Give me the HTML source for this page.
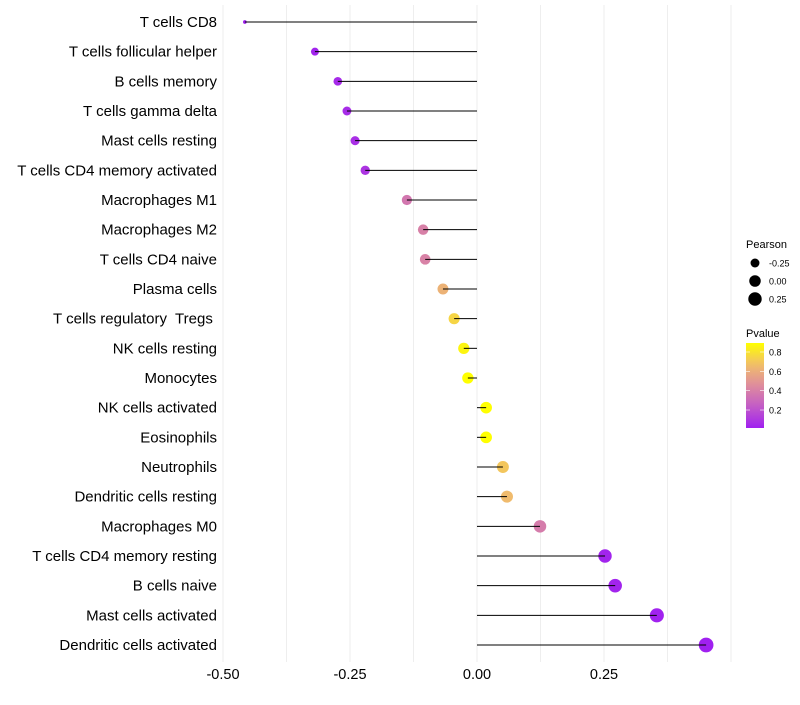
<!DOCTYPE html>
<html><head><meta charset="utf-8"><style>
body{margin:0;background:#fff;font-family:"Liberation Sans",sans-serif}
svg text{font-family:"Liberation Sans",sans-serif}
</style></head><body>
<svg id="chart" width="800" height="700"></svg>
<script>
const categories=["T cells CD8","T cells follicular helper","B cells memory","T cells gamma delta","Mast cells resting","T cells CD4 memory activated","Macrophages M1","Macrophages M2","T cells CD4 naive","Plasma cells","T cells regulatory  Tregs ","NK cells resting","Monocytes","NK cells activated","Eosinophils","Neutrophils","Dendritic cells resting","Macrophages M0","T cells CD4 memory resting","B cells naive","Mast cells activated","Dendritic cells activated"];
const pearson=[-0.457,-0.319,-0.274,-0.256,-0.240,-0.220,-0.138,-0.106,-0.102,-0.067,-0.045,-0.026,-0.018,0.018,0.018,0.051,0.059,0.124,0.252,0.272,0.354,0.451];
const pvalue=[0.01,0.03,0.05,0.06,0.07,0.09,0.36,0.40,0.41,0.62,0.75,0.86,0.90,0.90,0.90,0.70,0.66,0.38,0.03,0.03,0.02,0.01];
const xTicks=[-0.5,-0.25,0,0.25];
const xTickLabels=["-0.50","-0.25","0.00","0.25"];
const sizeLegend=[-0.25,0,0.25];
const pLegend=[0.2,0.4,0.6,0.8];

const NS="http://www.w3.org/2000/svg",svg=document.getElementById('chart');
function mk(t,a,p){const e=document.createElementNS(NS,t);for(const k in a)e.setAttribute(k,a[k]);(p||svg).appendChild(e);return e;}
const x0=477,ppu=508;
const xs=v=>x0+v*ppu;
const ys=i=>22+i*(623/21);
const pmin=Math.min(...pearson),pmax=Math.max(...pearson);
function rad(p){const t=Math.max(0,(p-pmin)/(pmax-pmin));const s=1+5*Math.sqrt(t);return (2.2*s+1.5)/2;}
const stops=[[0,[160,32,240]],[0.25,[194,91,200]],[0.5,[222,140,157]],[0.75,[241,190,106]],[1,[255,255,0]]];
const cmin=0.014,cmax=0.893;
function col(v){let t=Math.min(1,Math.max(0,(v-cmin)/(cmax-cmin)));for(let i=1;i<stops.length;i++){if(t<=stops[i][0]){const a=stops[i-1],b=stops[i],f=(t-a[0])/(b[0]-a[0]);const c=a[1].map((q,j)=>Math.round(q+(b[1][j]-q)*f));return `rgb(${c})`;}}return 'rgb(255,255,0)';}

const grid=mk('g',{});


for(let v=-0.5;v<=0.5001;v+=0.125){mk('line',{x1:xs(v),x2:xs(v),y1:5,y2:662,stroke:'#eeeeee','stroke-width':1},grid);}
xTicks.forEach((v,i)=>{const t=mk('text',{x:xs(v),y:679,'text-anchor':'middle','font-size':14.5,fill:'#000'});t.textContent=xTickLabels[i];

});
categories.forEach((c,i)=>{const y=ys(i);
const l=mk('text',{x:217,y:y+5,'text-anchor':'end','font-size':15,fill:'#000'});l.setAttribute('xml:space','preserve');l.style.whiteSpace='pre';l.textContent=c;


const d=mk('circle',{cx:xs(pearson[i]),cy:y,r:rad(pearson[i]),fill:col(pvalue[i])});


const ln=mk('line',{x1:xs(0),x2:xs(pearson[i]),y1:y,y2:y,stroke:'#000','stroke-width':1});


});
const lg=mk('g',{});


let t=mk('text',{x:746,y:248,'font-size':11},lg);t.textContent='Pearson';
sizeLegend.forEach((v,i)=>{const y=263+i*18;mk('circle',{cx:755,cy:y,r:rad(v),fill:'#000'},lg);const tt=mk('text',{x:769,y:y+3.5,'font-size':9},lg);tt.textContent=v.toFixed(2);

});
t=mk('text',{x:746,y:337,'font-size':11},lg);t.textContent='Pvalue';
const defs=mk('defs',{});const gr=mk('linearGradient',{id:'pg',x1:0,y1:1,x2:0,y2:0},defs);
for(let k=0;k<=10;k++){const v=cmin+(cmax-cmin)*k/10;mk('stop',{offset:k/10,'stop-color':col(v)},gr);}
const cy=v=>428-(v-cmin)/(cmax-cmin)*85;
mk('rect',{x:746,y:343,width:18,height:85,fill:'url(#pg)'},lg);
pLegend.forEach(v=>{const y=cy(v);mk('line',{x1:746,x2:750,y1:y,y2:y,stroke:'#fff','stroke-width':0.6},lg);mk('line',{x1:760,x2:764,y1:y,y2:y,stroke:'#fff','stroke-width':0.6},lg);
const tt=mk('text',{x:769,y:y+3.5,'font-size':9},lg);tt.textContent=v.toFixed(1);

});
</script>
</body></html>
